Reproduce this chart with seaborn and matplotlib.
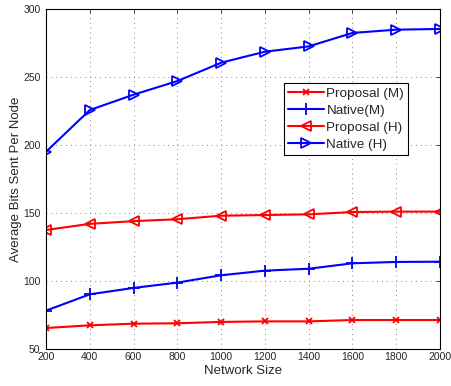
import matplotlib
matplotlib.use("Agg")
import matplotlib.pyplot as plt
import seaborn as sns
import pandas as pd

network_size = [200, 400, 600, 800, 1000, 1200, 1400, 1600, 1800, 2000]
proposal_m = [65.4, 67.4, 68.6, 68.9, 69.9, 70.3, 70.3, 71.3, 71.3, 71.3]
native_m = [78.2, 90.2, 94.9, 98.8, 104.2, 107.6, 109.0, 113.0, 114.0, 114.2]
proposal_h = [137.5, 142.0, 144.0, 145.4, 148.0, 148.5, 149.0, 150.7, 151.0, 151.0]
native_h = [195.0, 225.7, 237.0, 247.0, 260.5, 268.6, 272.5, 282.4, 284.8, 285.3]
series_names = ["Proposal (M)", "Native(M)", "Proposal (H)", "Native (H)"]
x_ticks = [200, 400, 600, 800, 1000, 1200, 1400, 1600, 1800, 2000]
y_ticks = [50, 100, 150, 200, 250, 300]

sns.set_style("white")
plt.rcParams['font.family'] = ['Liberation Sans', 'DejaVu Sans']

df = pd.DataFrame({
    "Network Size": network_size * 4,
    "value": proposal_m + native_m + proposal_h + native_h,
    "series": sum([[n] * len(network_size) for n in series_names], []),
})

fig = plt.figure(figsize=(4.51, 3.86), dpi=100)
ax = fig.add_axes([0.102, 0.0959, 0.8736, 0.8808])

palette = {"Proposal (M)": "#ff0000", "Native(M)": "#0000ff",
           "Proposal (H)": "#ff0000", "Native (H)": "#0000ff"}
markers = {"Proposal (M)": "x", "Native(M)": "+",
           "Proposal (H)": "<", "Native (H)": ">"}
msizes = {"Proposal (M)": 5, "Native(M)": 8,
          "Proposal (H)": 7.5, "Native (H)": 7.5}

for name in series_names:
    sub = df[df["series"] == name]
    sns.lineplot(data=sub, x="Network Size", y="value", ax=ax,
                 color=palette[name], marker=markers[name], markersize=msizes[name],
                 markerfacecolor="none", markeredgecolor=palette[name],
                 markeredgewidth=1.3, linewidth=1.5, label=name)

ax.set_xlim(200, 2000)
ax.set_ylim(50, 300)
ax.set_xticks(x_ticks)
ax.set_yticks(y_ticks)
ax.tick_params(axis='both', direction='in', top=True, right=True,
               labelsize=7.5, length=3, width=0.6)
ax.tick_params(axis='x', pad=2)
ax.tick_params(axis='y', pad=4)
ax.grid(True, linestyle=(0, (1, 4)), color='#888888', linewidth=0.7)
for s in ax.spines.values():
    s.set_color('black')
    s.set_linewidth(0.8)
ax.set_xlabel("Network Size", fontsize=9.5, labelpad=2)
ax.set_ylabel("Average Bits Sent Per Node", fontsize=9.5, labelpad=1)

leg = ax.legend(loc='upper left', bbox_to_anchor=(0.604, 0.782), fontsize=9.7,
                frameon=True, fancybox=False, framealpha=1, edgecolor='black',
                handlelength=2.7, handletextpad=0.15, borderpad=0.3,
                labelspacing=0.35, borderaxespad=0)
leg.get_frame().set_linewidth(0.8)

fig.savefig("out.png", dpi=100)
